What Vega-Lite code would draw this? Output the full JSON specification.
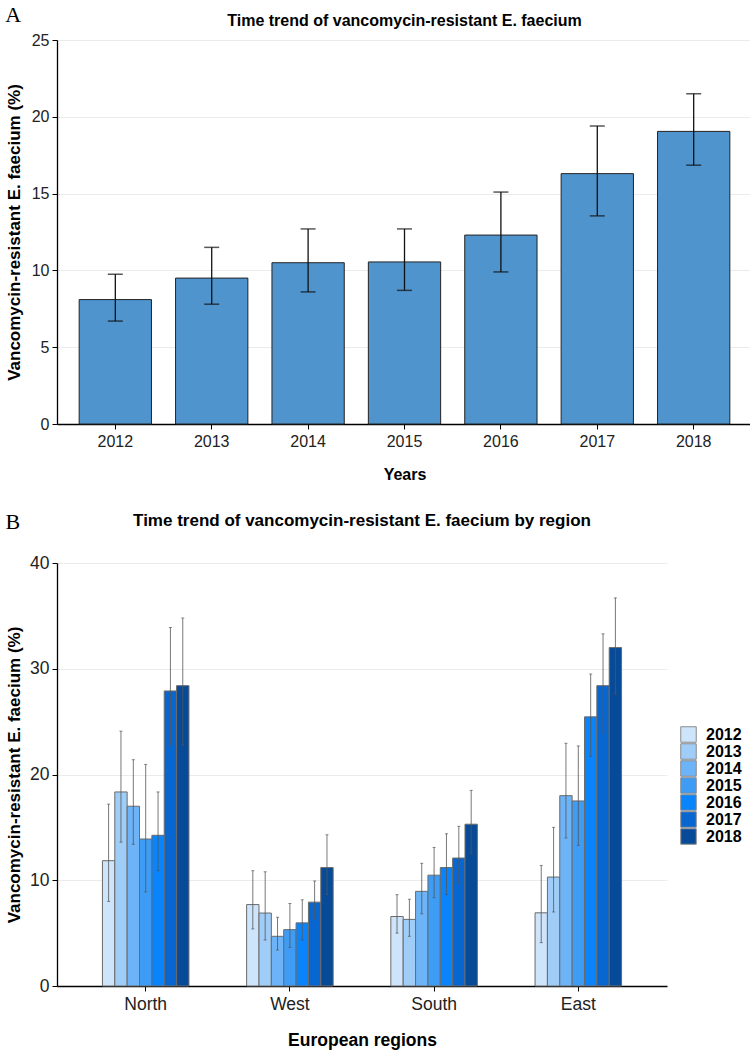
{
  "$schema": "https://vega.github.io/schema/vega-lite/v6.json",
  "background": "white",
  "padding": {"left": 5, "top": 4, "right": 2, "bottom": 2},
  "spacing": 29,
  "datasets": {
    "overall": [
      {"year": "2012", "pct": 8.1, "lo": 6.7, "hi": 9.75},
      {"year": "2013", "pct": 9.5, "lo": 7.8, "hi": 11.5},
      {"year": "2014", "pct": 10.5, "lo": 8.6, "hi": 12.7},
      {"year": "2015", "pct": 10.55, "lo": 8.7, "hi": 12.7},
      {"year": "2016", "pct": 12.3, "lo": 9.9, "hi": 15.1},
      {"year": "2017", "pct": 16.3, "lo": 13.55, "hi": 19.4},
      {"year": "2018", "pct": 19.05, "lo": 16.85, "hi": 21.5}
    ],
    "regions": [
      {"region": "North", "year": "2012", "pct": 11.85, "lo": 8.0, "hi": 17.2},
      {"region": "North", "year": "2013", "pct": 18.35, "lo": 13.6, "hi": 24.1},
      {"region": "North", "year": "2014", "pct": 17.0, "lo": 13.4, "hi": 21.4},
      {"region": "North", "year": "2015", "pct": 13.9, "lo": 8.9, "hi": 20.95},
      {"region": "North", "year": "2016", "pct": 14.25, "lo": 10.9, "hi": 18.35},
      {"region": "North", "year": "2017", "pct": 27.9, "lo": 22.8, "hi": 33.9},
      {"region": "North", "year": "2018", "pct": 28.4, "lo": 22.8, "hi": 34.8},
      {"region": "West", "year": "2012", "pct": 7.7, "lo": 5.4, "hi": 10.9},
      {"region": "West", "year": "2013", "pct": 6.9, "lo": 4.35, "hi": 10.8},
      {"region": "West", "year": "2014", "pct": 4.7, "lo": 3.4, "hi": 6.5},
      {"region": "West", "year": "2015", "pct": 5.33, "lo": 3.65, "hi": 7.8},
      {"region": "West", "year": "2016", "pct": 5.97, "lo": 4.35, "hi": 8.15},
      {"region": "West", "year": "2017", "pct": 7.93, "lo": 6.35, "hi": 9.93},
      {"region": "West", "year": "2018", "pct": 11.2, "lo": 8.64, "hi": 14.3},
      {"region": "South", "year": "2012", "pct": 6.57, "lo": 5.0, "hi": 8.64},
      {"region": "South", "year": "2013", "pct": 6.3, "lo": 4.7, "hi": 8.2},
      {"region": "South", "year": "2014", "pct": 8.95, "lo": 6.83, "hi": 11.6},
      {"region": "South", "year": "2015", "pct": 10.48, "lo": 8.35, "hi": 13.1},
      {"region": "South", "year": "2016", "pct": 11.2, "lo": 8.64, "hi": 14.4},
      {"region": "South", "year": "2017", "pct": 12.1, "lo": 9.7, "hi": 15.1},
      {"region": "South", "year": "2018", "pct": 15.3, "lo": 12.5, "hi": 18.5},
      {"region": "East", "year": "2012", "pct": 6.92, "lo": 4.1, "hi": 11.4},
      {"region": "East", "year": "2013", "pct": 10.3, "lo": 7.0, "hi": 15.0},
      {"region": "East", "year": "2014", "pct": 18.0, "lo": 14.0, "hi": 22.95},
      {"region": "East", "year": "2015", "pct": 17.5, "lo": 13.3, "hi": 22.7},
      {"region": "East", "year": "2016", "pct": 25.45, "lo": 21.7, "hi": 29.5},
      {"region": "East", "year": "2017", "pct": 28.4, "lo": 23.95, "hi": 33.3},
      {"region": "East", "year": "2018", "pct": 32.0, "lo": 27.6, "hi": 36.7}
    ]
  },
  "vconcat": [
    {
      "title": {
        "text": "A",
        "anchor": "start",
        "font": "Liberation Serif",
        "fontSize": 22,
        "fontWeight": "normal",
        "color": "black",
        "offset": -14
      },
      "vconcat": [
        {
          "width": 695,
          "height": 384,
          "title": {
            "text": "Time trend of vancomycin-resistant E. faecium",
            "font": "Liberation Sans",
            "fontSize": 16,
            "fontWeight": "bold",
            "color": "black",
            "offset": 3
          },
          "data": {"name": "overall"},
          "encoding": {
            "x": {
              "field": "year",
              "type": "nominal",
              "scale": {"paddingInner": 0.25, "paddingOuter": 0.23},
              "axis": {
                "labelAngle": 0,
                "labelFontSize": 16,
                "title": "Years",
                "titleFontSize": 16,
                "titlePadding": 17,
                "grid": false
              }
            }
          },
          "layer": [
            {
              "mark": {"type": "bar", "fill": "#4f94cd", "stroke": "#222222", "strokeWidth": 1},
              "encoding": {
                "y": {
                  "field": "pct",
                  "type": "quantitative",
                  "scale": {"domain": [0, 25], "nice": false, "padding": 0},
                  "axis": {
                    "values": [0, 5, 10, 15, 20, 25],
                    "labelFontSize": 16,
                    "title": "Vancomycin-resistant E. faecium (%)",
                    "titleFontSize": 17,
                    "titlePadding": 8
                  }
                }
              }
            },
            {
              "mark": {"type": "rule", "color": "#111111", "strokeWidth": 1.3},
              "encoding": {
                "y": {"field": "lo", "type": "quantitative", "scale": {"domain": [0, 25], "nice": false, "padding": 0}},
                "y2": {"field": "hi"}
              }
            },
            {
              "mark": {"type": "tick", "orient": "horizontal", "color": "#111111", "size": 15, "thickness": 1.5},
              "encoding": {"y": {"field": "lo", "type": "quantitative", "scale": {"domain": [0, 25], "nice": false, "padding": 0}}}
            },
            {
              "mark": {"type": "tick", "orient": "horizontal", "color": "#111111", "size": 15, "thickness": 1.5},
              "encoding": {"y": {"field": "hi", "type": "quantitative", "scale": {"domain": [0, 25], "nice": false, "padding": 0}}}
            }
          ]
        }
      ]
    },
    {
      "title": {
        "text": "B",
        "anchor": "start",
        "font": "Liberation Serif",
        "fontSize": 22,
        "fontWeight": "normal",
        "color": "black",
        "offset": -22
      },
      "vconcat": [
        {
          "width": 610,
          "height": 423,
          "title": {
            "text": "Time trend of vancomycin-resistant E. faecium by region",
            "font": "Liberation Sans",
            "fontSize": 17,
            "fontWeight": "bold",
            "color": "black",
            "offset": 24
          },
          "data": {"name": "regions"},
          "encoding": {
            "x": {
              "field": "region",
              "type": "nominal",
              "sort": ["North", "West", "South", "East"],
              "scale": {"paddingInner": 0.4, "paddingOuter": 0.315},
              "axis": {
                "labelAngle": 0,
                "labelFontSize": 17.5,
                "title": "European regions",
                "titleFontSize": 17.5,
                "titlePadding": 19,
                "grid": false
              }
            },
            "xOffset": {
              "field": "year",
              "type": "nominal",
              "sort": ["2012", "2013", "2014", "2015", "2016", "2017", "2018"]
            }
          },
          "layer": [
            {
              "mark": {"type": "bar", "stroke": "#6b6b6b", "strokeWidth": 1},
              "encoding": {
                "y": {
                  "field": "pct",
                  "type": "quantitative",
                  "scale": {"domain": [0, 40], "nice": false, "padding": 0},
                  "axis": {
                    "values": [0, 10, 20, 30, 40],
                    "labelFontSize": 17.5,
                    "title": "Vancomycin-resistant E. faecium (%)",
                    "titleFontSize": 17,
                    "titlePadding": 6
                  }
                },
                "fill": {
                  "field": "year",
                  "type": "nominal",
                  "scale": {
                    "domain": ["2012", "2013", "2014", "2015", "2016", "2017", "2018"],
                    "range": ["#cde4fb", "#a0cdf8", "#6db3f7", "#3e9cf5", "#0a84fa", "#0866d0", "#064a98"]
                  },
                  "legend": {
                    "title": null,
                    "orient": "none",
                    "legendX": 623,
                    "legendY": 686,
                    "symbolType": "square",
                    "symbolSize": 240,
                    "symbolStrokeColor": "#8a8a8a",
                    "symbolStrokeWidth": 1,
                    "rowPadding": 0,
                    "clipHeight": 17,
                    "labelFont": "Liberation Sans",
                    "labelFontSize": 16,
                    "labelFontWeight": "bold",
                    "labelColor": "black",
                    "labelOffset": 9
                  }
                }
              }
            },
            {
              "mark": {"type": "rule", "color": "#555555", "strokeWidth": 0.8},
              "encoding": {
                "y": {"field": "lo", "type": "quantitative", "scale": {"domain": [0, 40], "nice": false, "padding": 0}},
                "y2": {"field": "hi"}
              }
            },
            {
              "mark": {"type": "tick", "orient": "horizontal", "color": "#555555", "size": 3, "thickness": 1},
              "encoding": {"y": {"field": "lo", "type": "quantitative", "scale": {"domain": [0, 40], "nice": false, "padding": 0}}}
            },
            {
              "mark": {"type": "tick", "orient": "horizontal", "color": "#555555", "size": 3, "thickness": 1},
              "encoding": {"y": {"field": "hi", "type": "quantitative", "scale": {"domain": [0, 40], "nice": false, "padding": 0}}}
            }
          ]
        }
      ]
    }
  ],
  "config": {
    "font": "Liberation Sans",
    "view": {"stroke": null},
    "axis": {
      "labelFont": "Liberation Sans",
      "labelColor": "#222222",
      "titleFont": "Liberation Sans",
      "titleFontWeight": "bold",
      "titleColor": "black",
      "domainColor": "black",
      "domainWidth": 1.3,
      "tickColor": "black",
      "tickSize": 5,
      "gridColor": "#ebebeb",
      "gridWidth": 1
    },
    "axisX": {"labelPadding": 4},
    "axisY": {"labelPadding": 3}
  }
}
